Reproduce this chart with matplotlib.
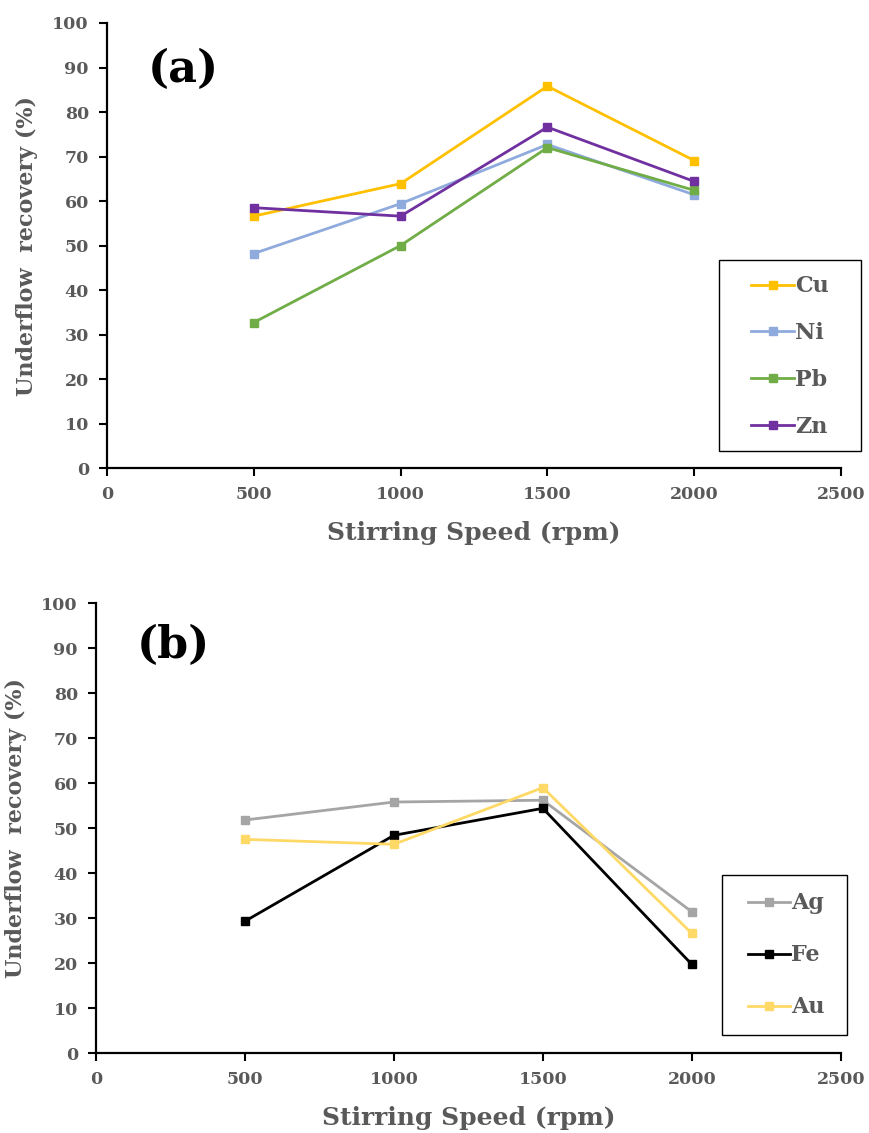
import matplotlib
matplotlib.use("Agg")
import matplotlib.pyplot as plt
from matplotlib.patches import Rectangle

speeds = [500, 1000, 1500, 2000]

cu = [56.6, 63.9, 85.8, 69.1]
ni = [48.2, 59.4, 72.7, 61.4]
pb = [32.7, 50.0, 72.0, 62.4]
zn = [58.5, 56.6, 76.6, 64.4]

ag = [51.8, 55.8, 56.2, 31.4]
fe = [29.3, 48.4, 54.4, 19.7]
au = [47.5, 46.4, 59.0, 26.6]

top_series = [("Cu", cu, "#FFC000"), ("Ni", ni, "#8FAADC"),
              ("Pb", pb, "#70AD47"), ("Zn", zn, "#7030A0")]
bot_series = [("Ag", ag, "#A5A5A5"), ("Fe", fe, "#000000"),
              ("Au", au, "#FFD966")]

xticks = [0, 500, 1000, 1500, 2000, 2500]
yticks = list(range(0, 101, 10))

plt.rcParams['font.family'] = ['DejaVu Serif']
plt.rcParams['font.weight'] = 'bold'
gray = "#595959"

fig = plt.figure(figsize=(8.69, 11.33), dpi=100)
ax1 = fig.add_axes([0.1231, 0.5869, 0.8447, 0.3928])
ax2 = fig.add_axes([0.1105, 0.0706, 0.857, 0.397])

def style(ax, series, panel, panel_pos, leg_anchor, leg_space, rect):
    for name, vals, col in series:
        ax.plot(speeds, vals, color=col, lw=2, marker='s', ms=6,
                label=name)
    ax.set_xlim(0, 2500)
    ax.set_ylim(0, 100)
    ax.set_xticks(xticks)
    ax.set_yticks(yticks)
    for s in ['top', 'right']:
        ax.spines[s].set_visible(False)
    for s in ['left', 'bottom']:
        ax.spines[s].set_linewidth(1.6)
        ax.spines[s].set_color('black')
    ax.tick_params(axis='both', direction='out', length=6, width=1.5,
                   colors='black', labelcolor=gray, labelsize=12.5, pad=7)
    for lab in ax.get_xticklabels() + ax.get_yticklabels():
        lab.set_fontweight('bold')
    ax.set_xlabel("Stirring Speed (rpm)", fontsize=18, fontweight='bold',
                  color=gray, labelpad=13)
    ax.set_ylabel("Underflow  recovery (%)", fontsize=16, fontweight='bold',
                  color=gray, labelpad=10)
    ax.text(panel_pos[0], panel_pos[1], panel, transform=ax.transAxes,
            fontsize=32, fontweight='bold', color='black',
            va='center', ha='left')
    ax.add_patch(Rectangle((rect[0], rect[1]), rect[2], rect[3],
                           transform=ax.transAxes, fill=False,
                           edgecolor='black', lw=1.0, clip_on=False))
    leg = ax.legend(loc='upper left', bbox_to_anchor=leg_anchor,
                    frameon=False, fontsize=16, labelspacing=leg_space,
                    handlelength=1.9, handletextpad=0.05, borderpad=0,
                    borderaxespad=0)
    for t in leg.get_texts():
        t.set_color(gray)
        t.set_fontweight('bold')

style(ax1, top_series, "(a)", (0.055, 0.895), (0.878, 0.433), 1.12,
      (0.8338, 0.0382, 0.1935, 0.4292))
style(ax2, bot_series, "(b)", (0.055, 0.905), (0.875, 0.357), 1.35,
      (0.8403, 0.04, 0.1678, 0.3556))

fig.savefig("out.png", dpi=100)
